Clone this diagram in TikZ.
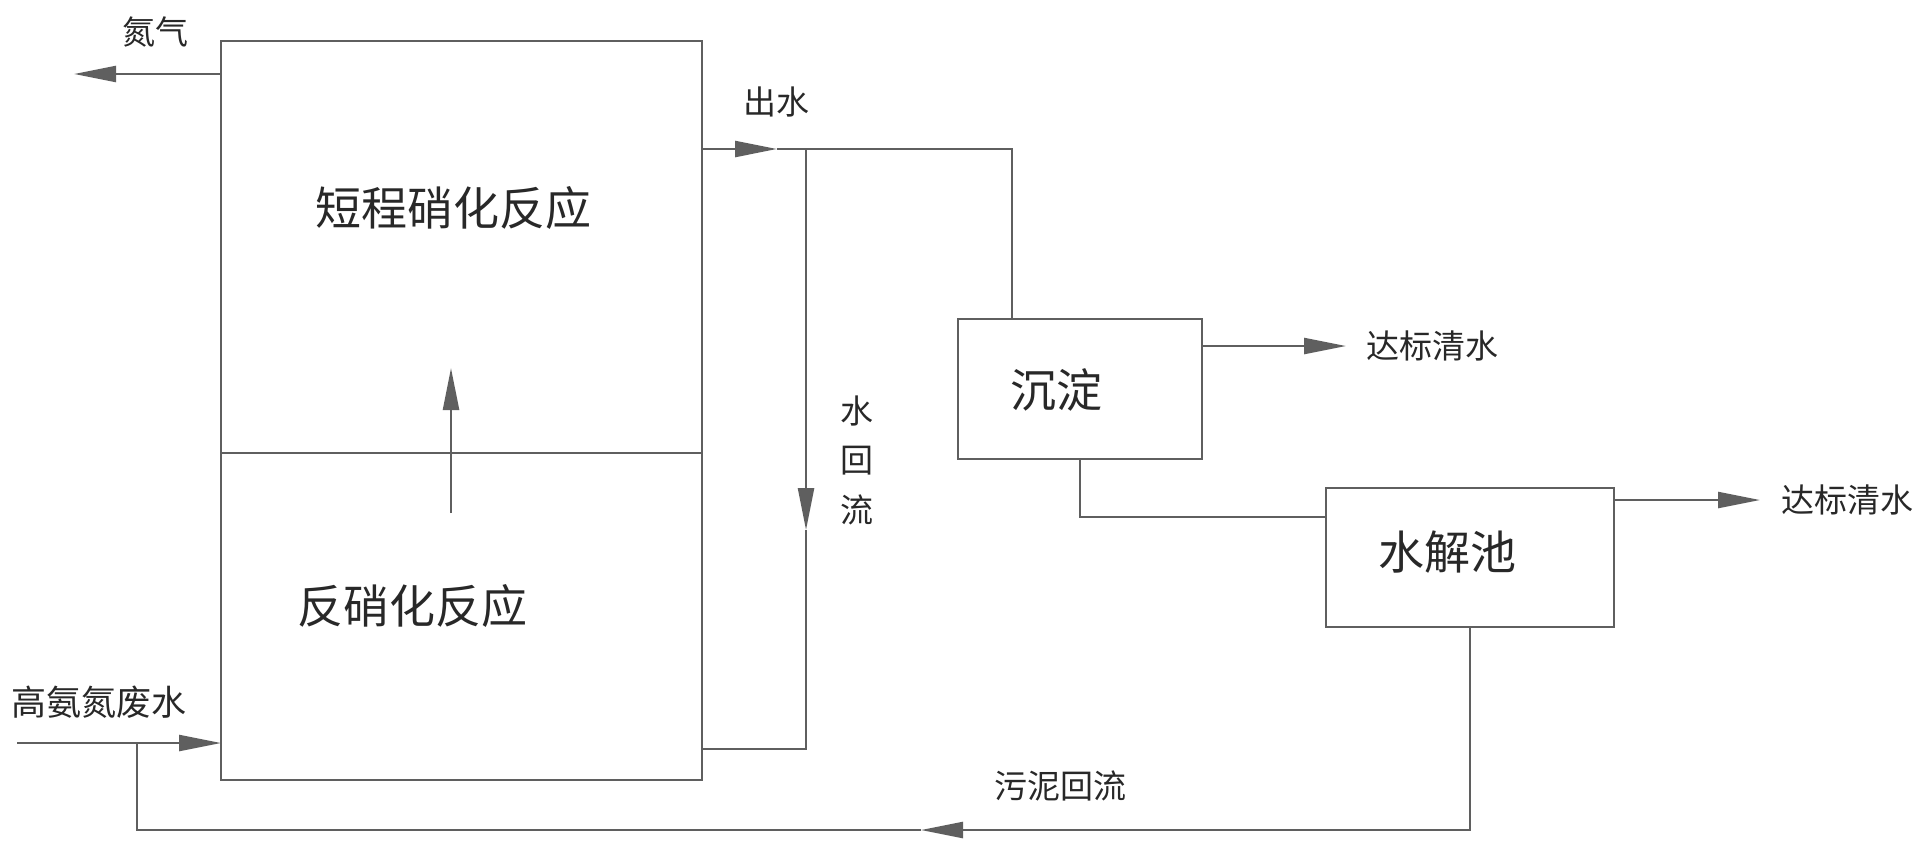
\documentclass[tikz,border=0pt]{standalone}
\usepackage{fontspec}
\newfontfamily\cjk{Noto Sans CJK SC}
\usetikzlibrary{arrows.meta}
\definecolor{lc}{RGB}{95,95,95}
\definecolor{tc}{RGB}{40,40,40}
\tikzset{
  ln/.style={draw=lc, line width=1.2pt},
  arr/.style={ln, -{Triangle[length=21pt,width=8pt]}},
  boxn/.style={ln, rectangle, inner sep=0pt, outer sep=0pt},
  big/.style={text=tc, font=\cjk\fontsize{23}{26}\selectfont, inner sep=0pt},
  small/.style={text=tc, font=\cjk\fontsize{16.5}{18}\selectfont, inner sep=0pt},
}
\begin{document}
\begin{tikzpicture}[x=0.5pt,y=-0.5pt]
\useasboundingbox (0,0) rectangle (1925,851);
% boxes
\node[boxn, minimum width=240.5pt, minimum height=206pt] (nit) at (461.5,247) {};
\node[boxn, minimum width=240.5pt, minimum height=163.5pt] (denit) at (461.5,616.5) {};
\node[boxn, minimum width=122pt, minimum height=70pt] (sed) at (1080,389) {};
\node[boxn, minimum width=144pt, minimum height=69.5pt] (hyd) at (1470,557.5) {};
% box texts
\node[big] (tnit) at (453,208) {短程硝化反应};
\node[big] (tdenit) at (412,606) {反硝化反应};
\node[big] (tsed) at (1056,390) {沉淀};
\node[big] (thyd) at (1447,552) {水解池};
% labels
\node[small] (ln2) at (155,32) {氮气};
\node[small] (lout) at (776,102) {出水};
\node[small, align=center, font=\cjk\fontsize{16.5}{24.75}\selectfont] (lret) at (857,460) {水\\回\\流};
\node[small] (lclean1) at (1432,346) {达标清水};
\node[small] (lclean2) at (1847,500) {达标清水};
\node[small] (lsludge) at (1060,786) {污泥回流};
\node[small, font=\cjk\fontsize{17.5}{20}\selectfont] (lin) at (99,702) {高氨氮废水};
% coordinates
\coordinate (n2) at (74,74);
\coordinate (outtip) at (777,149);
\coordinate (outj) at (806,149);
\coordinate (outc) at (1012,149);
\coordinate (rettip) at (806,530);
\coordinate (retb) at (806,749);
\coordinate (c1) at (1346,346);
\coordinate (c2) at (1760,500);
\coordinate (mid) at (1080,517);
\coordinate (botr) at (1470,830);
\coordinate (bottip) at (921,830);
\coordinate (botl) at (137,830);
\coordinate (inj) at (137,743);
\coordinate (inl) at (17,743);
\coordinate (upb) at (451,513);
\coordinate (upt) at (451,368);
% connectors
\draw[arr] (nit.west |- n2) -- (n2);
\draw[arr] (nit.east |- outtip) -- (outtip);
\draw[ln] (outtip) -- (outc) -- (outc |- sed.north);
\draw[arr] (outj) -- (rettip);
\draw[ln] (rettip) -- (retb) -- (denit.east |- retb);
\draw[arr] (sed.east |- c1) -- (c1);
\draw[ln] (sed.south) -- (mid) -- (hyd.west |- mid);
\draw[arr] (hyd.east |- c2) -- (c2);
\draw[arr] (hyd.south) -- (botr) -- (bottip);
\draw[ln] (bottip) -- (botl) -- (inj);
\draw[arr] (inl) -- (denit.west |- inl);
\draw[arr] (upb) -- (upt);
\end{tikzpicture}
\end{document}
